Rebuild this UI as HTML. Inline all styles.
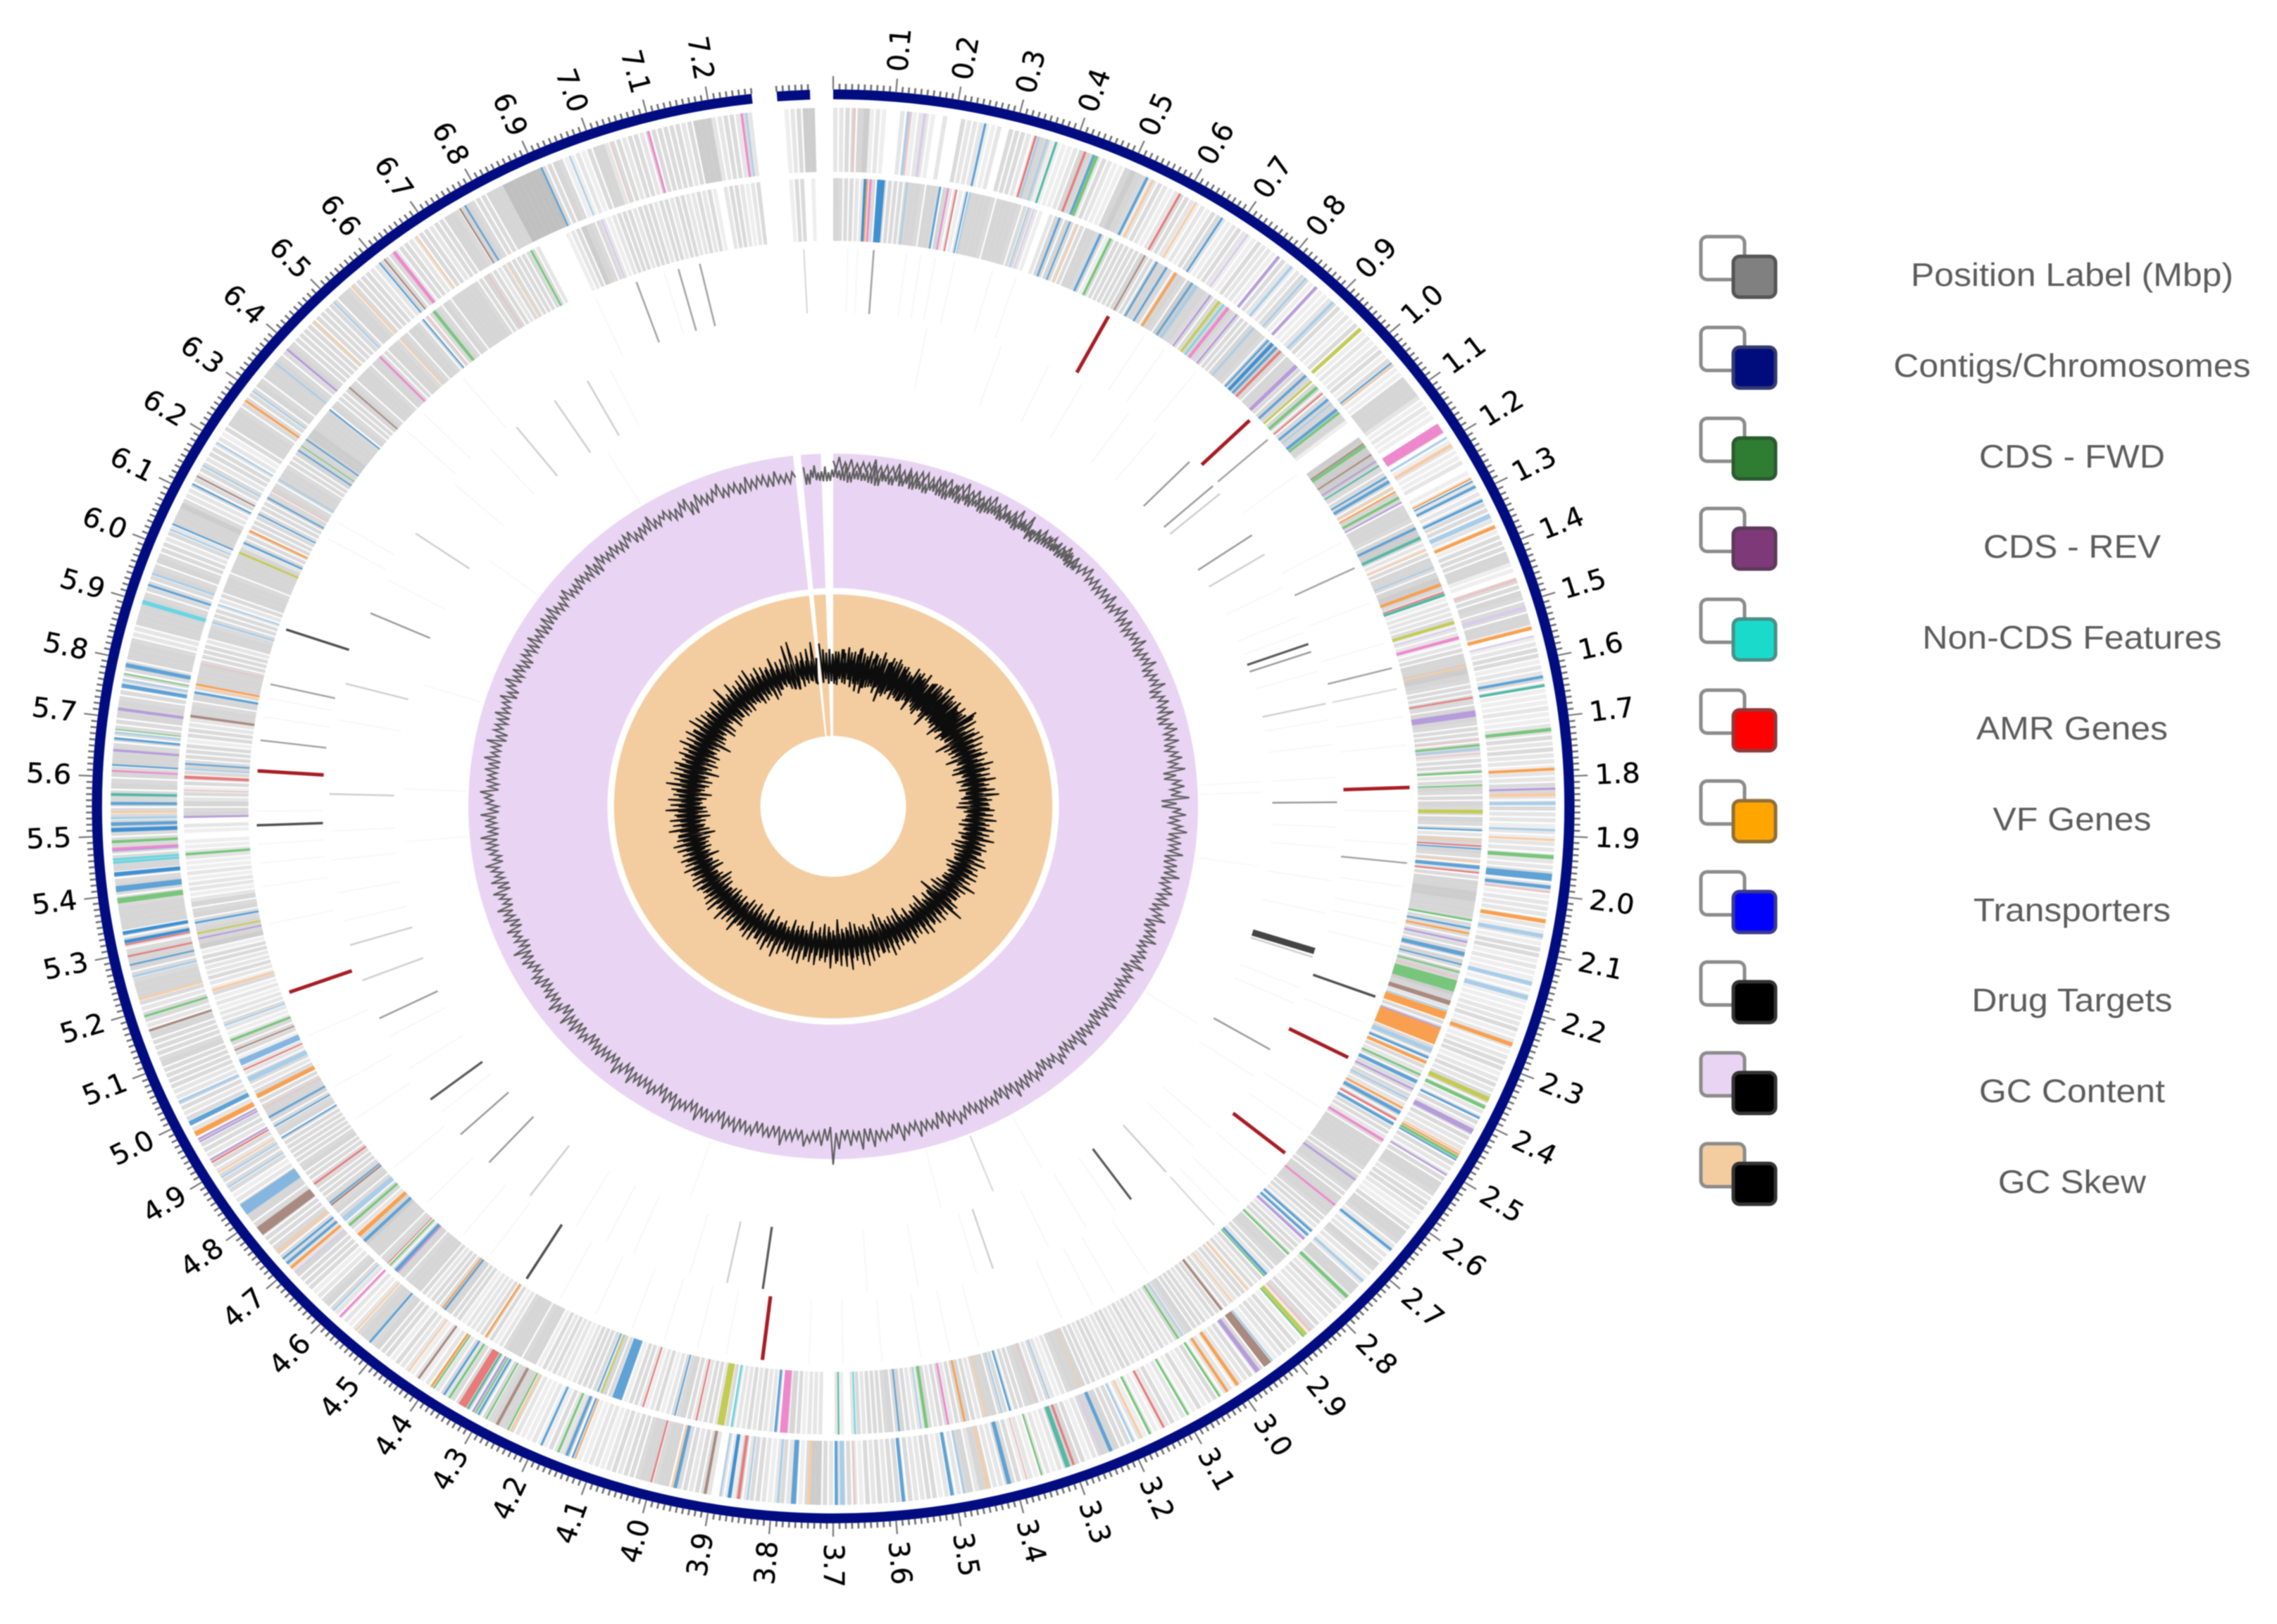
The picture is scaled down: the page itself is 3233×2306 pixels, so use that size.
<!DOCTYPE html>
<html lang="en">
<head>
<meta charset="utf-8">
<title>Circular genome map</title>
<style>
html,body{margin:0;padding:0;background:#fff;}
#stage{display:block;width:3233px;height:2306px;filter:blur(0.9px);}
.legend-text{font-family:"Liberation Sans",sans-serif;font-size:46px;fill:#5c5c5c;text-anchor:middle;}
.pos-label{font-family:"DejaVu Sans",sans-serif;font-size:39px;fill:#000;stroke:#000;stroke-width:0.35px;dominant-baseline:central;}
</style>
</head>
<body>
<svg id="stage" xmlns="http://www.w3.org/2000/svg" width="3233" height="2306" viewBox="0 0 3233 2306">
<rect x="0" y="0" width="3233" height="2306" fill="#ffffff"/>
<g id="map" transform="translate(1183 1145) scale(1.034 1)"></g>
<g>
<g><rect x="2415" y="336" width="62" height="61" rx="9" fill="#fff" stroke="#8c8c8c" stroke-width="5"/><rect x="2461" y="364" width="60" height="58" rx="9" fill="#808080" stroke="#555" stroke-width="5"/><text class="legend-text" x="2942" y="406" textLength="458" lengthAdjust="spacingAndGlyphs">Position Label (Mbp)</text></g>
<g><rect x="2415" y="465" width="62" height="61" rx="9" fill="#fff" stroke="#8c8c8c" stroke-width="5"/><rect x="2461" y="493" width="60" height="58" rx="9" fill="#000c7c" stroke="#333a70" stroke-width="5"/><text class="legend-text" x="2942" y="535" textLength="507" lengthAdjust="spacingAndGlyphs">Contigs/Chromosomes</text></g>
<g><rect x="2415" y="594" width="62" height="61" rx="9" fill="#fff" stroke="#8c8c8c" stroke-width="5"/><rect x="2461" y="622" width="60" height="58" rx="9" fill="#2e7d32" stroke="#2c5a30" stroke-width="5"/><text class="legend-text" x="2942" y="664" textLength="264" lengthAdjust="spacingAndGlyphs">CDS - FWD</text></g>
<g><rect x="2415" y="722" width="62" height="61" rx="9" fill="#fff" stroke="#8c8c8c" stroke-width="5"/><rect x="2461" y="750" width="60" height="58" rx="9" fill="#7e3a78" stroke="#5c3a5a" stroke-width="5"/><text class="legend-text" x="2942" y="792" textLength="252" lengthAdjust="spacingAndGlyphs">CDS - REV</text></g>
<g><rect x="2415" y="851" width="62" height="61" rx="9" fill="#fff" stroke="#8c8c8c" stroke-width="5"/><rect x="2461" y="879" width="60" height="58" rx="9" fill="#1adbcb" stroke="#4a8f88" stroke-width="5"/><text class="legend-text" x="2942" y="921" textLength="425" lengthAdjust="spacingAndGlyphs">Non-CDS Features</text></g>
<g><rect x="2415" y="980" width="62" height="61" rx="9" fill="#fff" stroke="#8c8c8c" stroke-width="5"/><rect x="2461" y="1008" width="60" height="58" rx="9" fill="#ff0000" stroke="#8f3a3a" stroke-width="5"/><text class="legend-text" x="2942" y="1050" textLength="272" lengthAdjust="spacingAndGlyphs">AMR Genes</text></g>
<g><rect x="2415" y="1109" width="62" height="61" rx="9" fill="#fff" stroke="#8c8c8c" stroke-width="5"/><rect x="2461" y="1137" width="60" height="58" rx="9" fill="#ffa500" stroke="#8f6f3a" stroke-width="5"/><text class="legend-text" x="2942" y="1179" textLength="225" lengthAdjust="spacingAndGlyphs">VF Genes</text></g>
<g><rect x="2415" y="1238" width="62" height="61" rx="9" fill="#fff" stroke="#8c8c8c" stroke-width="5"/><rect x="2461" y="1266" width="60" height="58" rx="9" fill="#0000ff" stroke="#3a3a8f" stroke-width="5"/><text class="legend-text" x="2942" y="1308" textLength="280" lengthAdjust="spacingAndGlyphs">Transporters</text></g>
<g><rect x="2415" y="1366" width="62" height="61" rx="9" fill="#fff" stroke="#8c8c8c" stroke-width="5"/><rect x="2461" y="1394" width="60" height="58" rx="9" fill="#000000" stroke="#333" stroke-width="5"/><text class="legend-text" x="2942" y="1436" textLength="285" lengthAdjust="spacingAndGlyphs">Drug Targets</text></g>
<g><rect x="2415" y="1495" width="62" height="61" rx="9" fill="#e9d5f3" stroke="#8c8c8c" stroke-width="5"/><rect x="2461" y="1523" width="60" height="58" rx="9" fill="#000000" stroke="#333" stroke-width="5"/><text class="legend-text" x="2942" y="1565" textLength="264" lengthAdjust="spacingAndGlyphs">GC Content</text></g>
<g><rect x="2415" y="1624" width="62" height="61" rx="9" fill="#f3cda0" stroke="#8c8c8c" stroke-width="5"/><rect x="2461" y="1652" width="60" height="58" rx="9" fill="#000000" stroke="#333" stroke-width="5"/><text class="legend-text" x="2942" y="1694" textLength="210" lengthAdjust="spacingAndGlyphs">GC Skew</text></g>
</g>
</svg>
<script>
// ---------- genome layout (Mbp) ----------
const genomeSpan = 7.4;
const contigStarts = [0, 7.31];
const contigEnds = [7.27, 7.363];
const plotContigStarts = [0, 7.295];
const plotContigEnds = [7.27, 7.36];

// ---------- feature density per 10 kb bin (outer ring) ----------
const outerDensity = [
2,2,3,3,4,5,1,2,1,0, 0,2,2,1,2,2,1,0,2,0, 0,3,2,2,2,1,1,2,0,3, 3,3,2,1,4,4,1,1,1,1, 2,4,4,3,2,3,2,1,1,4,
5,4,3,1,2,3,2,1,2,3, 3,2,1,2,1,3,3,2,1,2, 3,2,1,1,3,2,2,1,2,3, 2,1,2,3,3,1,2,1,1,2, 3,3,1,2,1,3,3,1,2,1,
2,3,1,3,3,1,1,4,4,4, 4,2,1,2,1,1,0,1,1,0, 1,2,1,1,2,0,1,1,2,1, 2,2,3,3,3,2,1,1,3,3, 3,4,4,1,1,0,3,3,4,3,
3,3,4,4,1,0,1,2,3,3, 1,2,2,3,1,1,1,1,2,1, 1,2,2,3,2,3,2,2,1,2, 2,3,3,2,2,3,2,2,1,2, 1,2,2,1,2,2,3,3,2,2,
1,2,2,2,1,2,1,2,1,3, 3,1,2,1,1,2,1,1,1,1, 1,2,2,3,1,2,2,1,2,3, 3,1,2,3,2,3,3,3,2,2, 3,2,3,3,2,2,2,2,3,2,
2,3,4,4,3,2,3,3,2,1, 1,3,4,4,3,2,1,2,2,4, 3,2,1,2,4,4,1,2,2,3, 2,2,1,3,3,1,2,1,3,2, 3,2,1,4,3,3,1,3,2,2,
1,2,2,1,3,2,1,3,1,1, 2,1,3,2,1,1,2,1,2,1, 3,3,4,4,4,3,2,1,3,4, 4,3,2,1,2,2,1,2,1,3, 3,3,2,2,4,4,2,4,3,2,
1,2,1,3,3,2,2,3,1,3, 3,2,3,2,3,1,2,3,3,3, 2,3,5,5,3,1,4,2,3,2, 1,2,3,3,2,4,1,2,2,0, 2,3,3,2,3,3,3,4,4,3,
4,4,3,3,3,2,3,2,1,2, 2,1,1,3,4,2,2,3,1,1, 2,1,1,2,3,4,4,4,3,3, 2,3,3,3,3,3,2,3,2,3, 2,1,2,1,2,2,3,1,3,3,
4,3,4,4,3,2,1,2,1,2, 3,4,3,2,1,3,3,3,4,2, 2,3,3,4,3,3,3,3,4,3, 4,4,3,3,2,1,3,3,3,3, 2,3,3,2,3,3,3,2,2,2,
3,2,3,3,2,2,3,3,3,3, 4,3,3,3,3,4,3,2,3,3, 2,3,4,4,4,3,3,4,4,4, 3,2,3,3,4,4,4,4,3,3, 3,4,3,3,4,4,3,3,3,3,
3,3,3,3,3,4,3,3,4,3, 4,3,4,4,4,3,3,3,3,3, 4,4,4,3,3,2,3,3,3,3, 4,4,4,3,2,2,4,4,4,4, 4,3,3,3,3,4,3,4,3,3,
3,2,3,2,4,4,4,5,3,2, 2,3,3,2,3,3,2,3,3,2, 2,1,3,4,4,4,3,3,3,3, 3,4,3,4,4,4,4,3,3,4, 3,3,3,3,3,3,3,3,3,3,
3,4,4,3,3,3,3,3,2,2, 3,3,3,2,3,3,2,2,3,3, 2,3,3,4,4,3,4,4,3,3, 3,4,4,4,6,6,6,6,6,6, 6,3,3,4,3,1,1,2,1,3,
4,4,2,3,3,2,3,3,2,3, 3,3,3,3,3,2,3,5,5,5, 2,2,3,3,2,3,2,0,0,0, 0,0,1,2,3,5,5,0,0,0];

// ---------- feature density per 10 kb bin (inner ring) ----------
const innerDensity = [
4,3,3,3,2,2,2,3,2,3, 3,3,3,4,4,4,3,4,4,3, 4,2,2,1,2,4,4,4,4,3, 4,4,4,4,3,3,3,2,1,0, 2,4,3,4,3,3,3,4,4,3,
3,1,3,3,3,3,3,3,4,3, 3,4,4,4,3,4,4,3,5,5, 4,4,3,3,3,4,4,4,3,3, 3,3,4,4,4,3,4,4,5,4, 3,4,4,3,3,4,4,3,4,3,
3,3,4,4,4,4,4,1,0,0, 0,5,5,5,5,5,5,4,3,3, 3,3,3,4,4,3,4,4,4,3, 4,5,5,3,2,2,3,4,4,3, 4,5,5,3,2,1,2,2,2,3,
1,2,2,1,2,3,4,4,5,5, 4,3,3,3,4,3,4,3,4,3, 3,3,3,4,3,2,3,3,3,2, 3,4,3,3,4,3,3,4,3,3, 2,4,3,4,3,3,3,3,3,4,
4,5,5,4,4,4,3,3,3,3, 3,3,3,3,4,3,4,4,4,4, 5,4,3,2,2,2,3,3,3,3, 3,3,3,3,3,3,2,3,3,3, 3,3,3,2,2,3,3,2,3,3,
2,3,4,4,4,4,4,3,3,4, 4,4,3,3,4,4,4,4,3,3, 3,2,3,3,3,2,3,3,3,4, 4,3,3,2,3,3,2,3,2,3, 3,2,2,3,2,3,3,2,3,3,
3,4,3,3,3,2,2,3,2,3, 2,3,2,2,3,3,2,2,3,3, 2,3,3,4,4,4,3,2,1,2, 3,2,4,4,3,3,3,2,3,3, 4,4,3,2,3,4,3,3,2,3,
3,2,3,2,2,2,3,4,3,4, 3,3,3,3,2,3,2,0,1,2, 0,0,2,2,2,1,3,4,1,2, 2,2,2,3,2,3,2,2,2,3, 2,2,3,3,2,2,3,4,3,3,
2,1,3,2,1,2,3,3,1,3, 0,3,4,2,3,3,3,3,2,1, 2,2,3,2,3,1,4,4,3,4, 4,4,3,2,1,3,3,3,2,2, 2,1,3,3,4,4,3,3,3,2,
3,4,4,4,3,4,4,3,3,4, 3,4,4,4,5,4,3,2,3,3, 4,3,4,3,4,3,3,3,3,3, 3,3,4,3,3,3,3,3,3,3, 4,3,3,4,4,4,3,3,4,3,
2,3,3,2,2,2,1,3,3,3, 2,1,2,3,2,2,1,2,1,3, 1,2,3,2,2,3,3,1,5,4, 4,4,3,3,4,3,4,2,1,2, 2,1,2,1,1,2,2,1,1,0,
1,2,0,4,3,4,2,3,1,3, 3,3,4,3,3,3,3,1,3,3, 2,2,4,4,3,4,3,3,4,4, 4,4,3,3,3,3,2,4,4,3, 3,3,3,2,2,3,4,4,4,3,
4,4,4,4,4,2,3,3,3,3, 3,3,3,3,3,4,3,4,3,4, 4,4,3,3,3,4,4,4,4,5, 5,4,4,4,4,3,4,3,3,3, 4,4,3,4,4,4,3,4,4,3,
3,4,4,3,4,3,4,4,3,3, 3,3,4,3,4,3,4,4,4,4, 4,3,3,4,3,3,2,3,3,3, 3,3,3,3,2,0,0,0,0,0, 1,2,3,5,4,3,3,2,1,2,
3,3,3,2,3,3,3,2,3,3, 2,3,3,2,2,3,2,3,1,0, 2,3,3,2,1,2,3,0,0,0, 0,0,1,3,3,0,1,0,0,0];

// ---------- coloured features: [position Mbp, length kb, kind] ----------
const outerFeatures = [
[.035,4,'P'],[.123,4,'l'],[.127,4,'P'],[.15,5,'v'],[.25,4,'b'],[.335,4,'r'],[.34,4,'l'],[.355,3,'l'],[.37,4,'t'],[.42,4,'r'],[.435,4,'b'],[.44,6,'g'],[.53,5,'b'],[.54,5,'O'],[.59,4,'r'],[.62,4,'O'],[.67,4,'b'],[.72,4,'v'],[.783,5,'p'],[.81,5,'l'],[.84,4,'l'],[.863,5,'p'],[.9,5,'l'],[.964,6,'y'],[1.04,3,'b'],[1.045,3,'O'],
[1.176,18,'m'],[1.195,4,'l'],[1.21,6,'O'],[1.275,3,'o'],[1.28,3,'b'],[1.29,5,'b'],[1.316,5,'b'],[1.345,8,'l'],[1.365,6,'o'],[1.46,6,'P'],[1.51,6,'v'],[1.546,6,'o'],[1.56,3,'v'],[1.63,5,'b'],[1.645,5,'t'],[1.72,6,'g'],[1.787,5,'o'],[1.82,4,'p'],[1.83,6,'O'],[1.845,6,'l'],[1.89,4,'l'],[1.907,4,'O'],
[1.936,7,'g'],[1.97,12,'b'],[1.987,6,'b'],[1.995,4,'P'],[2.045,7,'o'],[2.07,7,'l'],[2.152,7,'l'],[2.177,8,'l'],[2.26,7,'o'],[2.36,8,'y'],[2.375,6,'g'],[2.395,4,'b'],[2.42,9,'p'],[2.46,3,'O'],[2.465,3,'o'],[2.47,5,'g'],[2.475,3,'b'],[2.505,3,'p'],[2.66,5,'b'],[2.73,5,'l'],[2.767,6,'g'],[2.85,5,'P'],[2.86,6,'y'],[2.865,3,'g'],[2.93,3,'l'],[2.94,14,'n'],[2.96,8,'p'],[3.0,6,'o'],[3.02,5,'o'],[3.035,4,'g'],[3.095,4,'g'],[3.14,4,'r'],[3.165,4,'g'],[3.18,4,'O'],[3.195,4,'l'],[3.235,6,'b'],[3.25,3,'v'],[3.30,4,'r'],[3.31,8,'t'],[3.355,3,'g'],[3.38,3,'P'],
[3.41,7,'b'],[3.445,5,'O'],[3.485,4,'l'],[3.505,6,'b'],[3.585,6,'b'],[3.665,3,'P'],[3.685,8,'l'],[3.695,5,'b'],[3.74,5,'O'],[3.765,8,'b'],[3.79,4,'l'],[3.84,3,'l'],[3.855,5,'r'],[3.87,6,'B'],[3.885,3,'l'],[3.91,5,'n'],[3.96,6,'b'],[3.965,4,'O'],[4.0,3,'r'],[4.13,2,'o'],[4.135,3,'b'],[4.145,5,'b'],[4.16,4,'g'],[4.19,4,'b'],[4.245,4,'O'],[4.25,3,'g'],[4.27,5,'n'],[4.29,3,'g'],[4.305,4,'b'],[4.31,3,'g'],[4.315,4,'p'],[4.325,4,'t'],[4.335,14,'r'],[4.36,4,'g'],[4.37,4,'b'],[4.39,3,'g'],[4.395,4,'o'],[4.42,4,'n'],[4.44,3,'O'],[4.52,4,'b'],[4.55,3,'O'],[4.585,4,'m'],[4.60,3,'l'],[4.69,3,'v'],[4.70,5,'o'],[4.71,5,'b'],[4.72,4,'b'],[4.735,5,'O'],[4.78,16,'n'],[4.825,20,'L'],[4.87,3,'l'],[4.89,3,'l'],[4.9,3,'O'],[4.92,3,'r'],[4.925,3,'p'],[4.96,3,'p'],[4.965,3,'p'],[4.975,9,'o'],[4.995,8,'b'],[5.035,5,'l'],[5.165,4,'n'],[5.19,4,'g'],[5.22,4,'O'],[5.26,4,'l'],[5.28,3,'b'],[5.295,3,'r'],[5.315,3,'r'],[5.32,6,'B'],[5.335,6,'B'],
[5.39,9,'g'],[5.41,10,'b'],[5.435,7,'B'],[5.455,4,'c'],[5.46,4,'c'],[5.475,3,'p'],[5.478,4,'m'],[5.49,5,'g'],[5.51,7,'B'],[5.52,6,'b'],[5.53,4,'l'],[5.54,4,'O'],[5.555,5,'b'],[5.57,5,'t'],[5.61,3,'m'],[5.62,3,'b'],[5.645,4,'p'],[5.665,4,'b'],[5.675,3,'l'],[5.68,2,'g'],[5.715,5,'p'],[5.755,7,'b'],[5.765,3,'l'],[5.775,2,'g'],[5.79,7,'b'],[5.90,7,'c'],[5.93,4,'b'],[5.95,4,'l'],[6.03,3,'l'],[6.04,3,'b'],[6.115,3,'b'],[6.13,3,'n'],[6.15,3,'l'],[6.195,3,'l'],[6.28,4,'o'],[6.30,3,'l'],[6.36,3,'l'],[6.39,4,'p'],[6.455,3,'O'],[6.5,3,'l'],[6.54,3,'O'],[6.6,3,'b'],[6.61,3,'n'],[6.63,6,'m'],[6.675,3,'O'],[6.76,3,'n'],[6.77,3,'b'],[6.91,3,'b'],[6.96,3,'l'],[7.03,2,'P'],[7.095,4,'m'],[7.25,4,'m'],[7.258,3,'l']];

const innerFeatures = [
[.058,5,'B'],[.062,3,'o'],[.068,4,'m'],[.087,14,'B'],[.135,3,'l'],[.195,4,'b'],[.21,3,'m'],[.225,3,'r'],[.245,3,'b'],[.25,3,'l'],[.36,3,'l'],[.37,3,'v'],[.42,4,'b'],[.44,3,'b'],[.455,3,'O'],[.5,5,'b'],[.52,5,'g'],[.59,3,'n'],[.615,4,'b'],[.635,4,'b'],[.655,5,'o'],[.69,4,'b'],[.70,6,'l'],[.73,4,'p'],[.75,5,'y'],[.76,3,'c'],[.77,6,'m'],[.79,4,'p'],[.83,4,'l'],[.865,4,'b'],[.875,7,'B'],[.885,5,'b'],[.895,5,'r'],[.935,8,'p'],[.96,5,'b'],[.975,4,'y'],[.99,6,'g'],[1.005,3,'r'],[1.02,5,'b'],[1.03,3,'l'],[1.045,6,'b'],[1.052,5,'g'],
[1.125,3,'n'],[1.13,6,'g'],[1.15,3,'n'],[1.165,3,'p'],[1.175,3,'t'],[1.2,4,'b'],[1.21,6,'b'],[1.225,3,'O'],[1.232,3,'o'],[1.245,5,'g'],[1.255,3,'p'],[1.31,5,'b'],[1.33,6,'t'],[1.355,3,'O'],[1.39,3,'l'],[1.425,6,'o'],[1.44,3,'r'],[1.445,6,'t'],[1.5,6,'y'],[1.51,3,'v'],[1.53,6,'m'],[1.585,4,'O'],[1.645,3,'r'],[1.675,12,'p'],[1.725,3,'P'],[1.735,4,'g'],[1.742,4,'l'],[1.75,3,'P'],[1.785,4,'g'],[1.81,3,'g'],[1.86,7,'y'],[1.895,3,'b'],[1.915,3,'O'],
[1.925,3,'r'],[1.93,3,'b'],[1.955,3,'O'],[1.965,7,'b'],[1.975,3,'r'],[2.065,4,'g'],[2.08,4,'b'],[2.09,4,'o'],[2.107,4,'p'],[2.13,8,'b'],[2.15,3,'b'],[2.165,3,'g'],[2.175,3,'P'],[2.192,22,'g'],[2.225,9,'n'],[2.24,3,'l'],[2.25,15,'o'],[2.275,3,'p'],[2.292,32,'o'],[2.32,8,'l'],[2.335,5,'b'],[2.345,6,'o'],[2.37,4,'g'],[2.385,7,'b'],[2.4,4,'p'],[2.42,4,'l'],[2.44,4,'o'],[2.45,7,'b'],[2.465,4,'r'],[2.475,6,'b'],[2.51,5,'m'],[2.6,4,'p'],[2.66,4,'m'],[2.725,5,'b'],[2.735,5,'b'],[2.745,5,'p'],[2.785,4,'g'],[2.84,5,'b'],[2.845,3,'g'],[2.885,4,'O'],[2.92,3,'O'],[2.945,5,'n'],[3.04,4,'g'],[3.03,3,'l'],[3.24,2,'O'],[3.3,3,'l'],[3.325,3,'P'],
[3.375,4,'b'],[3.39,3,'l'],[3.42,3,'O'],[3.46,4,'o'],[3.49,4,'m'],[3.53,6,'g'],[3.54,3,'l'],[3.58,3,'b'],[3.66,3,'c'],[3.69,3,'t'],[3.79,14,'m'],[3.805,5,'b'],[3.885,4,'c'],[3.905,13,'y'],[3.95,3,'r'],[3.99,3,'b'],[4.05,3,'r'],[4.10,18,'b'],[4.13,3,'y'],[4.137,3,'b'],[4.365,4,'o'],[4.455,4,'b'],[4.46,3,'o'],[4.565,2,'m'],[4.57,7,'b'],[4.585,3,'g'],[4.59,2,'r'],[4.65,6,'b'],[4.665,8,'o'],[4.69,5,'g'],[4.705,10,'l'],[4.74,4,'n'],[4.745,3,'b'],[4.79,4,'r'],[4.895,3,'b'],[4.92,3,'b'],[4.94,4,'b'],[4.96,3,'P'],[4.985,8,'o'],[5.02,9,'l'],[5.04,3,'r'],[5.055,12,'L'],[5.08,3,'n'],[5.1,5,'g'],[5.13,3,'l'],[5.2,5,'O'],[5.30,3,'p'],[5.31,3,'y'],[5.33,4,'b'],[5.46,5,'g'],[5.53,4,'p'],[5.58,3,'P'],[5.605,6,'r'],[5.62,3,'l'],[5.63,3,'b'],[5.72,5,'n'],[5.765,5,'b'],[5.775,3,'O'],[5.78,4,'o'],[5.82,3,'P'],[5.9,4,'l'],[5.935,3,'l'],[6.04,4,'y'],[6.06,4,'b'],[6.085,4,'o'],[6.12,3,'b'],[6.155,3,'b'],[6.17,3,'P'],[6.195,3,'l'],[6.26,3,'b'],[6.27,2,'g'],[6.285,3,'b'],[6.355,3,'b'],[6.41,3,'n'],[6.49,4,'m'],[6.54,3,'O'],[6.595,3,'b'],[6.605,3,'P'],[6.62,6,'g'],[6.74,3,'P'],[6.78,2,'O'],[6.83,4,'g'],[6.97,4,'v']];

// ---------- gene-target tracks: position Mbp by class and track ----------
const amrTrack3 = [.586,.95,1.81,2.40,2.64,3.845,5.15,5.625];
const darkTrack3 = [5.51,5.93,4.36,2.26];
const darkTrack4 = [3.865,2.955,1.45,4.79];
const thickTrack4 = [2.205];
const grayTrack3 = [.083,6.99,7.125,7.08,1.97,1.555,1.33,1.005,5.81,5.69];
const grayTrack4 = [4.68,4.585,2.465,1.84,1.47,1.155,1.005,.925,6.03,5.02];
const paleTrack3 = [7.34,1.6,2.85];
const paleTrack4 = [4.46,3.95,2.85,3.32,2.22,1.6,1.21,1.03,6.8,6.71,6.6,6.25,5.85,5.58,5.21,5.12];
const paleTrack5 = [3.25];
const faintTrack3 = [.03,.05,.15,.18,.21,.25,.33,.38,.67,.72,.8,1.1,1.27,1.41,1.5,1.66,1.72,1.86,1.93,2.02,2.07,2.1,2.15,2.32,2.52,2.58,2.7,2.78,2.82,3.02,3.1,3.15,3.22,3.4,3.46,3.52,3.6,3.68,3.75,3.92,3.98,4.05,4.12,4.2,4.28,4.45,4.52,4.62,4.72,4.85,4.93,5.05,5.3,5.38,5.43,5.47,5.54,5.74,5.78,6.14,6.18,6.42,6.47,6.58,6.9,7.05];
const faintTrack4 = [.22,.4,.52,.61,.74,.82,1.3,1.38,1.42,1.52,1.64,1.7,1.78,1.9,1.95,2.03,2.11,2.3,2.34,2.54,2.7,2.76,3.0,3.08,3.18,3.36,3.5,3.62,4.04,4.18,4.25,4.33,4.75,4.88,4.97,5.27,5.34,5.42,5.49,5.76,6.12,6.4,6.52,6.86];
const faintTrack5 = [1.78,1.81,2.02,2.5,3.1,3.4,4.1,5.45,5.6,5.9,6.3,6.75];

// ---------- GC skew: signed deviation every 20 kb ----------
const gcSkewValues = [
18,-22,26,-16,30,-12,24,-20,20,-26, 34,-18,22,-30,26,-14,32,-20,18,-24, 28,-16,26,-34,20,-22,30,-14,24,-28, 22,-30,18,-20,26,-38,28,-16,22,-24,
30,-22,34,-18,26,-44,24,-20,36,-26, 32,-30,28,-40,36,-22,30,-34,40,-28, 38,-24,30,-44,34,-32,36,-28,30,-26, 26,-38,32,-22,24,-30,36,-34,28,-20,
26,-30,34,-24,22,-28,30,-18,36,-26, 24,-30,20,-34,28,-22,26,-18,32,-24, 22,-28,30,-20,24,-26,34,-18,22,-28, 26,-32,20,-24,28,-22,34,-18,24,-30,
28,-26,30,-20,24,-22,38,-18,26,-28, 22,-34,20,-26,30,-44,46,-24,26,-30, 30,-22,28,-36,24,-26,34,-28,30,-20, 24,-30,26,-22,32,-38,24,-28,26,-30,
30,-26,36,-34,28,-42,26,-32,30,-24, 34,-30,40,-28,36,-34,28,-38,42,-30, 36,-28,34,-44,30,-26,38,-32,28,-36, 26,-30,34,-24,30,-38,28,-22,36,-28,
32,-26,28,-34,24,-20,30,-28,38,-22, 26,-30,34,-18,28,-36,22,-24,30,-26, 30,-34,24,-28,20,-32,36,-22,26,-28, 28,-24,36,-30,22,-26,34,-20,30,-28,
26,-30,22,-36,28,-24,30,-18,26,-32, 24,-28,32,-20,26,-34,30,-22,24,-26, 30,-24,34,-28,26,-38,22,-30,36,-24, 28,-26,32,-34,24,-30,38,-28,30,-22,
34,-28,26,-36,30,-24,40,-30,28,-34, 36,-26,30,-42,34,-28,24,-36,32,-30, 28,-34,38,-26,30,-28,36,-44,26,-30, 40,-28,34,-24,30,-36,28,-32,26,-20,
30,-34,24,-28,42,-26,22,-30,36,-28, 26,-30,30,-22,34,-24,38,-30,26,-28, 32,-24,28,-34,24,-30,36,-22,26,-20, 28,-26,48,-24,52,-22,26,-28,30,-24,
34,-22,44,-28,40,-26,30,-20,24,-28, 30,-24,22,-28,26,-30,22,-20,30,-26, 24,-28,34,-20,26,-32,28,-22,24,-38, 36,-26,28,-40,24,-30,34,-28,22,-26,
30,-24,26,-34,38,-22,28,-46,24,-30, 34,-26,30,-28,36,-20,26,-34,28,-24, 30,-26,24,-30,20,-28,36,-24,30,-22, 34,-28,26,-20,38,-26,22,-30,28,-34,
32,-24,26,-18,34,-30,24,-22,40,-20, 30,-26,34,-18,28,-24,22,-26,36,-20, 24,-30,20,-28,26,-18,
30,-26,46,-24,36];

// ---------- GC content: deviation every 20 kb ----------
const gcContentValues = [
14,18,12,16,11,15,13,17,10,14, 12,16,9,14,11,15,13,8,14,12, 15,10,13,17,11,14,9,12,16,10, 13,8,11,15,6,12,-2,9,13,10, 12,7,10,14,8,11,6,10,13,7,
9,5,10,6,11,4,8,12,5,9, 3,8,6,10,2,7,5,9,1,6, 4,8,-1,5,7,2,6,-3,4,7, 1,5,-2,3,6,0,4,-8,2,5, -1,4,-12,2,5,-3,3,7,-2,4,
0,5,-4,3,-1,6,-3,2,4,-2, 3,-5,1,4,-6,2,-1,5,-3,1, 3,-2,4,-7,2,0,-4,3,1,-3, 5,-1,2,-5,4,0,3,-3,6,-2, 1,-4,3,5,-2,0,-6,4,2,-3,
4,-1,6,-3,2,-5,3,1,-2,5, 0,-4,3,6,-1,2,-7,4,1,-2, 5,-3,0,4,-6,2,3,-1,6,-4, 8,-2,3,-5,1,18,-6,4,-2,3, 5,-3,2,-1,6,-4,3,0,-5,4,
2,-3,5,-1,3,-6,1,4,-2,5, -4,2,0,6,-3,3,-5,1,4,-2, 3,-1,5,-4,2,6,-3,1,-2,4, 0,-5,3,2,-3,5,-1,4,-6,2, 6,-2,3,-1,-4,5,2,-3,1,4,
-2,6,-4,2,0,3,-5,4,-1,5, -3,1,3,-6,4,-2,2,5,-4,0, 3,-1,6,-3,2,-2,4,-5,1,3, 5,-4,2,-1,3,-3,6,0,-2,4, -6,3,1,-3,5,-1,2,4,-4,3,
6,-2,4,0,-5,3,1,-3,5,-1, 2,-4,4,-2,6,0,-3,2,5,-1, -3,4,1,-2,3,-5,6,2,-1,4, 0,-3,5,3,-4,2,-1,6,-2,3, 3,-1,-5,4,2,-8,5,0,-3,4,
6,-2,3,1,-4,5,-1,4,2,-3, 5,0,-2,4,3,-6,2,6,-1,-3, 4,-3,2,5,1,-2,6,-4,3,0, 5,-1,2,-3,6,-5,4,1,3,-2, 4,7,-1,3,5,-2,6,0,4,-3,
3,2,6,-1,5,-3,4,1,7,-2, 5,3,-1,6,2,4,-2,7,1,5, 3,6,0,4,7,2,5,-1,6,3, 4,8,2,5,6,1,7,3,9,4,
6,10,3,8,5,9,2,7,4];

const positionLabels = ["0.1","0.2","0.3","0.4","0.5","0.6","0.7","0.8","0.9","1.0","1.1","1.2","1.3","1.4","1.5","1.6","1.7","1.8","1.9","2.0","2.1","2.2","2.3","2.4","2.5","2.6","2.7","2.8","2.9","3.0","3.1","3.2","3.3","3.4","3.5","3.6","3.7","3.8","3.9","4.0","4.1","4.2","4.3","4.4","4.5","4.6","4.7","4.8","4.9","5.0","5.1","5.2","5.3","5.4","5.5","5.6","5.7","5.8","5.9","6.0","6.1","6.2","6.3","6.4","6.5","6.6","6.7","6.8","6.9","7.0","7.1","7.2"];

// ---------- drawing ----------
const NS = 'http://www.w3.org/2000/svg';
const map = document.getElementById('map');
const kindColors = {b:'#5ea2d6',B:'#3f90d2',l:'#a9cde8',L:'#85b6df',o:'#f9a050',O:'#f7cca6',g:'#78c67c',t:'#56b8a6',p:'#b69cdb',v:'#d9cbea',m:'#ee88cc',r:'#e87a7a',P:'#e9c6c6',y:'#c3cc52',c:'#66d6e2',n:'#a98a80'};
const bandGrays = ['#ffffff','#eeeeee','#e5e5e5','#dadada','#d6d6d6','#cdcdcd','#c0c0c0'];
function angleOf(p){return p/genomeSpan*2*Math.PI;}
function px(r,p){return (r*Math.sin(angleOf(p))).toFixed(2);}
function py(r,p){return (-r*Math.cos(angleOf(p))).toFixed(2);}
function wedge(p0,p1,r0,r1){
  const large=(angleOf(p1)-angleOf(p0))>Math.PI?1:0;
  return 'M'+px(r0,p0)+' '+py(r0,p0)+'L'+px(r1,p0)+' '+py(r1,p0)+'A'+r1+' '+r1+' 0 '+large+' 1 '+px(r1,p1)+' '+py(r1,p1)+'L'+px(r0,p1)+' '+py(r0,p1)+'A'+r0+' '+r0+' 0 '+large+' 0 '+px(r0,p0)+' '+py(r0,p0)+'Z';
}
function addGroup(){const g=document.createElementNS(NS,'g');map.appendChild(g);return g;}

// central plot backgrounds
const plotBg=addGroup();


plotContigStarts.forEach(function(start,i){
  const purple=document.createElementNS(NS,'path');
  purple.setAttribute('d',wedge(start,plotContigEnds[i],310,501));
  purple.setAttribute('fill','#e9d5f3');
  
  
  plotBg.appendChild(purple);
  const tan=document.createElementNS(NS,'path');
  tan.setAttribute('d',wedge(start,plotContigEnds[i],100,301));
  tan.setAttribute('fill','#f3cda0');
  
  
  plotBg.appendChild(tan);
});

// density bands and coloured features for the two CDS rings
function drawBins(values,r0,r1,name){
  const g=addGroup();
  
  
  values.forEach(function(level,i){
    if(!level)return;
    const fill=level<4?0.0072:0.01;
    const band=document.createElementNS(NS,'path');
    band.setAttribute('d',wedge(i*0.01,i*0.01+fill,r0,r1));
    band.setAttribute('fill',bandGrays[level]);
    
    
    g.appendChild(band);
  });
}
function drawFeatures(list,r0,r1,name){
  const g=addGroup();
  
  
  list.forEach(function(f){
    const half=f[1]/2000;
    const mark=document.createElementNS(NS,'path');
    mark.setAttribute('d',wedge(f[0]-half,f[0]+half,r0,r1));
    mark.setAttribute('fill',kindColors[f[2]]);
    
    
    g.appendChild(mark);
  });
}
drawBins(outerDensity,901,992,'cds-outer-ring');
drawFeatures(outerFeatures,901,992,'cds-outer-features');
drawBins(innerDensity,803,892,'cds-inner-ring');
drawFeatures(innerFeatures,803,892,'cds-inner-features');

// gene target tracks
const trackInner={3:701,4:603,5:504};
const trackOuter={3:792,4:692,5:589};
function drawLines(values,track,color,width,name){
  const g=addGroup();
  
  
  values.forEach(function(p){
    const line=document.createElementNS(NS,'line');
    line.setAttribute('x1',px(trackInner[track],p));
    line.setAttribute('y1',py(trackInner[track],p));
    line.setAttribute('x2',px(trackOuter[track],p));
    line.setAttribute('y2',py(trackOuter[track],p));
    line.setAttribute('stroke',color);
    line.setAttribute('stroke-width',width);
    
    
    g.appendChild(line);
  });
}
drawLines(faintTrack3,3,'#f7f7f7',2,'faint-lines-track-3');
drawLines(faintTrack4,4,'#f7f7f7',2,'faint-lines-track-4');
drawLines(faintTrack5,5,'#f8f8f8',2,'faint-lines-track-5');
drawLines(paleTrack3,3,'#d6d6d6',2,'pale-lines-track-3');
drawLines(paleTrack4,4,'#cfcfcf',2.5,'pale-lines-track-4');
drawLines(paleTrack5,5,'#d6d6d6',2,'pale-lines-track-5');
drawLines(grayTrack3,3,'#a4a4a4',2.5,'gray-lines-track-3');
drawLines(grayTrack4,4,'#9c9c9c',2.5,'gray-lines-track-4');
drawLines(darkTrack3,3,'#505050',3.5,'dark-lines-track-3');
drawLines(darkTrack4,4,'#5a5a5a',3.2,'dark-lines-track-4');
drawLines(thickTrack4,4,'#444444',9,'thick-line-track-4');
drawLines(amrTrack3,3,'#a81c24',5,'amr-gene-lines');

// polyline traces through the data arrays
function tracePoints(values,start,step,base,scale){
  return values.map(function(v,i){
    const p=start+i*step;
    const r=base+v*scale;
    return px(r,p)+','+py(r,p);
  }).join(' ');
}
// GC content is sampled more finely in the source: each value is drawn with a
// jagged envelope whose size follows the change to the next value.
function jaggedPoints(values,start,step,base){
  const out=[];
  values.forEach(function(v,i){
    const next=i+1<values.length?values[i+1]:v;
    const spread=4+Math.abs(next-v)*0.7;
    const p=start+i*step;
    const q=p+step/2;
    const r1=base+v+spread;
    const r2=base+(v+next)/2-spread;
    out.push(px(r1,p)+','+py(r1,p));
    out.push(px(r2,q)+','+py(r2,q));
  });
  return out.join(' ');
}
const gcMain=gcContentValues.slice(0,364);
const gcSmall=gcContentValues.slice(364);
const gcTrace=document.createElementNS(NS,'polyline');
gcTrace.setAttribute('points',jaggedPoints(gcMain,0,0.02,470));
gcTrace.setAttribute('fill','none');
gcTrace.setAttribute('stroke','#5e5e5e');
gcTrace.setAttribute('stroke-width','2.2');


map.appendChild(gcTrace);
const gcTraceSmall=document.createElementNS(NS,'polyline');
gcTraceSmall.setAttribute('points',jaggedPoints(gcSmall,7.30,0.012,470));
gcTraceSmall.setAttribute('fill','none');
gcTraceSmall.setAttribute('stroke','#5e5e5e');
gcTraceSmall.setAttribute('stroke-width','2.2');


map.appendChild(gcTraceSmall);

const skewMain=gcSkewValues.slice(0,364);
const skewSmall=gcSkewValues.slice(364);
const skewTrace=document.createElementNS(NS,'polyline');
skewTrace.setAttribute('points',tracePoints(skewMain,0,0.02,198,0.85));
skewTrace.setAttribute('fill','none');
skewTrace.setAttribute('stroke','#0d0d0d');
skewTrace.setAttribute('stroke-width','2');


map.appendChild(skewTrace);
const skewCore=document.createElementNS(NS,'polyline');
skewCore.setAttribute('points',tracePoints(skewMain,0.01,0.02,198,-0.5));
skewCore.setAttribute('fill','none');
skewCore.setAttribute('stroke','#0d0d0d');
skewCore.setAttribute('stroke-width','3');


map.appendChild(skewCore);
const skewTraceSmall=document.createElementNS(NS,'polyline');
skewTraceSmall.setAttribute('points',tracePoints(skewSmall,7.30,0.012,198,0.85));
skewTraceSmall.setAttribute('fill','none');
skewTraceSmall.setAttribute('stroke','#0d0d0d');
skewTraceSmall.setAttribute('stroke-width','2.4');


map.appendChild(skewTraceSmall);

// contig ring
const contigRing=addGroup();


contigStarts.forEach(function(start,i){
  const arc=document.createElementNS(NS,'path');
  arc.setAttribute('d',wedge(start,contigEnds[i],1004,1018));
  arc.setAttribute('fill','#000c80');
  
  
  contigRing.appendChild(arc);
});

// ticks
const tickGroup=addGroup();


contigStarts.forEach(function(start,c){
  const first=Math.ceil(start*100-1e-6), last=Math.floor(contigEnds[c]*100+1e-6);
  for(let k=first;k<=last;k++){
    const p=k/100;
    const major=(k%10===0)&&c===0;
    const outer=major?1037:1026;
    const tick=document.createElementNS(NS,'line');
    tick.setAttribute('x1',px(1018,p));
    tick.setAttribute('y1',py(1018,p));
    tick.setAttribute('x2',px(outer,p));
    tick.setAttribute('y2',py(outer,p));
    tick.setAttribute('stroke',major?'#777777':'#6e6e6e');
    tick.setAttribute('stroke-width',major?'2.2':'2.6');
    
    
    tickGroup.appendChild(tick);
  }
});

// position labels
const labelGroup=addGroup();


positionLabels.forEach(function(label){
  const p=parseFloat(label);
  const deg=p/genomeSpan*360;
  const right=deg<=180.01;
  const rot=right?deg-90:deg-270;
  const text=document.createElementNS(NS,'text');
  text.setAttribute('class','pos-label');
  text.setAttribute('transform','translate('+px(1047,p)+' '+py(1047,p)+') rotate('+rot.toFixed(2)+')');
  text.setAttribute('text-anchor',right?'start':'end');
  
  
  text.textContent=label;
  labelGroup.appendChild(text);
});
</script>
</body>
</html>
